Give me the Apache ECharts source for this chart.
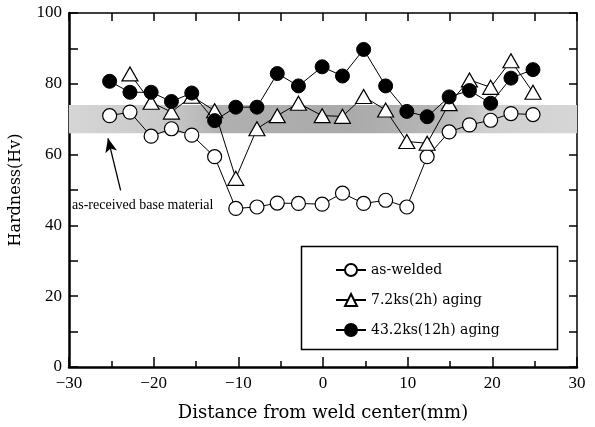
<!DOCTYPE html>
<html>
<head>
<meta charset="utf-8">
<script src="https://cdn.jsdelivr.net/npm/echarts@6/dist/echarts.min.js"></script>
<style>
  html, body { margin: 0; padding: 0; background: #fff; }
  #main { width: 595px; height: 427px; }
</style>
</head>
<body>
<div id="main"></div>
<script>
// distance from weld center (mm)
var distance = [-25.2, -22.8, -20.3, -17.9, -15.5, -12.8, -10.3, -7.8, -5.4, -2.9, -0.1,
  2.3, 4.8, 7.4, 9.9, 12.3, 14.9, 17.3, 19.8, 22.2, 24.8];
// hardness Hv
var asWelded = [71.0, 72.0, 65.2, 67.3, 65.5, 59.4, 44.8, 45.2, 46.3, 46.2, 46.0,
  49.1, 46.2, 47.1, 45.2, 59.4, 66.4, 68.4, 69.7, 71.6, 71.3];
var aging2h = [null, 82.8, 74.8, 72.0, 76.5, 72.4, 53.3, 67.3, 71.0, 74.5, 71.0,
  70.8, 76.4, 72.6, 63.7, 63.2, 74.4, 81.1, 79.0, 86.5, 77.6];
var aging12h = [80.7, 77.6, 77.6, 75.0, 77.4, 69.6, 73.4, 73.4, 82.9, 79.4, 84.8,
  82.2, 89.7, 79.4, 72.2, 70.7, 76.3, 78.1, 74.5, 81.6, 84.0];
// as-received base material range
var baseRange = [66, 74];
var seriesNames = ["as-welded", "7.2ks(2h) aging", "43.2ks(12h) aging"];

function pairs(vals) {
  var out = [];
  for (var i = 0; i < distance.length; i++) {
    out.push([distance[i], vals[i] == null ? null : vals[i]]);
  }
  return out;
}

var font = "Liberation Serif";
var wide = "DejaVu Serif";
var minus = function (v) { return String(v).replace("-", "\u2212"); };

var myChart = echarts.init(document.getElementById("main"));
myChart.setOption({
  animation: false,
  backgroundColor: "#fff",
  grid: { left: 66, right: 18, top: 13, bottom: 55 },
  xAxis: [
    {
      type: "value", min: -30, max: 30, interval: 10, position: "bottom",
      name: "Distance from weld center(mm)", nameLocation: "middle", nameGap: 37,
      nameTextStyle: { fontFamily: wide, fontSize: 18, color: "#000" },
      axisLine: { onZero: false, lineStyle: { color: "#000", width: 2.5 } },
      axisTick: { inside: true, length: 10, lineStyle: { color: "#000", width: 1.5 } },
      minorTick: { show: true, splitNumber: 2, length: 6, lineStyle: { color: "#000", width: 1.5 } },
      axisLabel: { fontFamily: font, fontSize: 17, color: "#000", margin: 8, formatter: minus },
      splitLine: { show: false }
    },
    {
      type: "value", min: -30, max: 30, interval: 5, position: "top",
      axisLine: { show: true, onZero: false, lineStyle: { color: "#000", width: 1.5 } },
      axisTick: { show: true, inside: true, length: 8, lineStyle: { color: "#000", width: 1.5 } },
      axisLabel: { show: false },
      splitLine: { show: false }
    }
  ],
  yAxis: [
    {
      type: "value", min: 0, max: 100, interval: 20, position: "left",
      name: "Hardness(Hv)", nameLocation: "middle", nameGap: 45,
      nameTextStyle: { fontFamily: wide, fontSize: 16, color: "#000" },
      axisLine: { show: true, onZero: false, lineStyle: { color: "#000", width: 2.5 } },
      axisTick: { show: true, inside: true, length: 9, lineStyle: { color: "#000", width: 1.5 } },
      minorTick: { show: true, splitNumber: 2, length: 9, lineStyle: { color: "#000", width: 1.5 } },
      axisLabel: { fontFamily: font, fontSize: 17, color: "#000", margin: 7 },
      splitLine: { show: false }
    },
    {
      type: "value", min: 0, max: 100, interval: 10, position: "right",
      axisLine: { show: true, onZero: false, lineStyle: { color: "#000", width: 1.5 } },
      axisTick: { show: true, inside: true, length: 8, lineStyle: { color: "#000", width: 1.5 } },
      axisLabel: { show: false },
      splitLine: { show: false }
    }
  ],
  legend: {
    data: seriesNames,
    orient: "vertical",
    left: 330, top: 258,
    itemWidth: 30, itemHeight: 15, itemGap: 16,
    textStyle: { fontFamily: wide, fontSize: 14, color: "#000" }
  },
  graphic: [
    {
      type: "rect", left: 299, top: 244, z: 0,
      shape: { width: 256, height: 103 },
      style: { fill: "none", stroke: "#000", lineWidth: 1.5 }
    },
    {
      type: "text", left: 72, top: 198, z: 10,
      style: { text: "as-received base material", font: "14px 'Liberation Serif'", fill: "#000" }
    }
  ],
  series: [
    {
      name: seriesNames[0], type: "line", z: 3,
      data: pairs(asWelded),
      symbol: "circle", symbolSize: 14,
      itemStyle: { color: "#fff", borderColor: "#000", borderWidth: 1.2 },
      lineStyle: { color: "#000", width: 1 },
      markArea: {
        silent: true,
        itemStyle: {
          color: {
            type: "linear", x: 0, y: 0, x2: 1, y2: 0,
            colorStops: [
              { offset: 0, color: "#d6d6d6" },
              { offset: 0.2, color: "#c8c8c8" },
              { offset: 0.3, color: "#b0b0b0" },
              { offset: 0.55, color: "#aaaaaa" },
              { offset: 0.72, color: "#b6b6b6" },
              { offset: 0.82, color: "#d0d0d0" },
              { offset: 1, color: "#d6d6d6" }
            ]
          }
        },
        data: [[{ yAxis: baseRange[0] }, { yAxis: baseRange[1] }]]
      },
      markLine: {
        silent: true,
        symbol: ["none", "arrow"],
        symbolSize: [9, 14],
        lineStyle: { color: "#000", width: 1.3, type: "solid" },
        label: { show: false },
        data: [[{ coord: [-23.9, 49.9] }, { coord: [-25.4, 64.6] }]]
      }
    },
    {
      name: seriesNames[1], type: "line", z: 4,
      data: pairs(aging2h), connectNulls: false,
      symbol: "triangle", symbolSize: [16, 14],
      itemStyle: { color: "#fff", borderColor: "#000", borderWidth: 1.2 },
      lineStyle: { color: "#000", width: 1 }
    },
    {
      name: seriesNames[2], type: "line", z: 5,
      data: pairs(aging12h),
      symbol: "circle", symbolSize: 14,
      itemStyle: { color: "#000", borderColor: "#000", borderWidth: 1 },
      lineStyle: { color: "#000", width: 1 }
    }
  ]
});
</script>
</body>
</html>
